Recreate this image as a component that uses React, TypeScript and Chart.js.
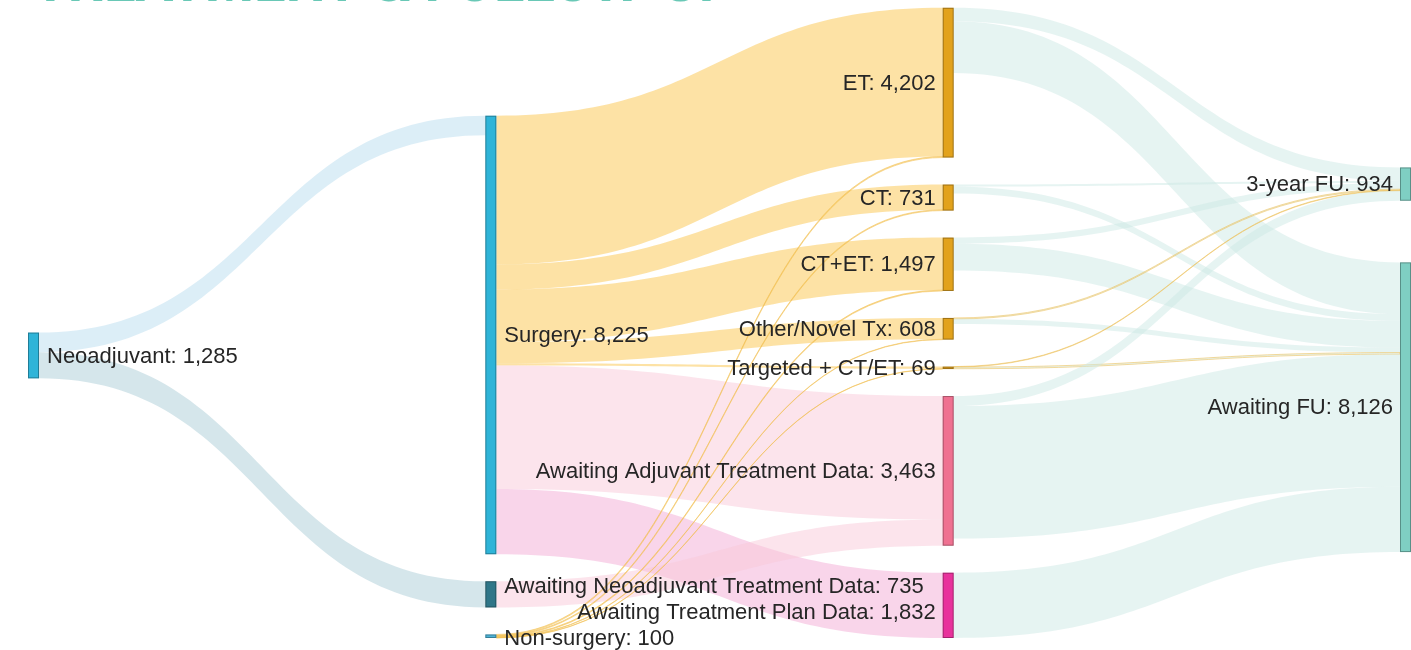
import React, { useEffect, useRef } from "react";
import { Chart, registerables } from "chart.js";

Chart.register(...registerables);

// ---------------- DATA ----------------
const TITLE = "TREATMENT & FOLLOW-UP";

const nodeNames = [
  "Neoadjuvant",
  "Surgery",
  "Awaiting Neoadjuvant Treatment Data",
  "Non-surgery",
  "ET",
  "CT",
  "CT+ET",
  "Other/Novel Tx",
  "Targeted + CT/ET",
  "Awaiting Adjuvant Treatment Data",
  "Awaiting Treatment Plan Data",
  "3-year FU",
  "Awaiting FU",
];
const nodeColumns = [0, 1, 1, 1, 2, 2, 2, 2, 2, 2, 2, 3, 3];
const nodeLabelValues = [1285, 8225, 735, 100, 4202, 731, 1497, 608, 69, 3463, 1832, 934, 8126];

const linkSources = [
  "Neoadjuvant", "Neoadjuvant",
  "Surgery", "Surgery", "Surgery", "Surgery", "Surgery", "Surgery", "Surgery",
  "Awaiting Neoadjuvant Treatment Data",
  "Non-surgery", "Non-surgery", "Non-surgery", "Non-surgery", "Non-surgery",
  "ET", "ET", "CT", "CT", "CT+ET", "CT+ET", "Other/Novel Tx", "Other/Novel Tx",
  "Targeted + CT/ET", "Targeted + CT/ET",
  "Awaiting Adjuvant Treatment Data", "Awaiting Adjuvant Treatment Data",
  "Awaiting Treatment Plan Data",
];
const linkTargets = [
  "Surgery", "Awaiting Neoadjuvant Treatment Data",
  "ET", "CT", "CT+ET", "Other/Novel Tx", "Targeted + CT/ET", "Awaiting Adjuvant Treatment Data", "Awaiting Treatment Plan Data",
  "Awaiting Adjuvant Treatment Data",
  "ET", "CT", "CT+ET", "Other/Novel Tx", "Targeted + CT/ET",
  "3-year FU", "Awaiting FU", "3-year FU", "Awaiting FU", "3-year FU", "Awaiting FU", "3-year FU", "Awaiting FU",
  "3-year FU", "Awaiting FU",
  "3-year FU", "Awaiting FU",
  "Awaiting FU",
];
const linkValues = [
  550, 735,
  4172, 706, 1472, 596, 61, 3463, 1832,
  735,
  30, 25, 25, 12, 8,
  380, 1450, 60, 190, 170, 750, 30, 140,
  14, 46,
  280, 3718,
  1832,
];

// ---------------- LAYOUT PARAMETERS / STYLES ----------------
const Y_AXIS_MAX = 17700;
const NODE_PADDING = 757;
const ITERATIONS = 3;
const NODE_WIDTH = 11;
const LABEL_FONT_SIZE = 22;

const nodeColors: Record<string, string> = {
  "Neoadjuvant": "#2fb4d8",
  "Surgery": "#2fb4d8",
  "Awaiting Neoadjuvant Treatment Data": "#2f7688",
  "Non-surgery": "#4db3d6",
  "ET": "#e2a21c",
  "CT": "#e2a21c",
  "CT+ET": "#e2a21c",
  "Other/Novel Tx": "#e2a21c",
  "Targeted + CT/ET": "#e2a21c",
  "Awaiting Adjuvant Treatment Data": "#ef7191",
  "Awaiting Treatment Plan Data": "#e8329c",
  "3-year FU": "#7fcfc3",
  "Awaiting FU": "#7fcfc3",
};
const linkColorsByTarget: Record<string, string> = {
  "Surgery": "rgba(185,221,239,0.5)",
  "Awaiting Neoadjuvant Treatment Data": "rgba(171,205,215,0.5)",
  "ET": "rgba(251,197,75,0.5)",
  "CT": "rgba(251,197,75,0.5)",
  "CT+ET": "rgba(251,197,75,0.5)",
  "Other/Novel Tx": "rgba(251,197,75,0.5)",
  "Targeted + CT/ET": "rgba(251,197,75,0.5)",
  "Awaiting Adjuvant Treatment Data": "rgba(249,201,217,0.5)",
  "Awaiting Treatment Plan Data": "rgba(243,171,213,0.5)",
  "3-year FU": "rgba(205,233,229,0.5)",
  "Awaiting FU": "rgba(205,233,229,0.5)",
};

// ---------------- SANKEY LAYOUT (d3-sankey style relaxation, fixed node order) ----------------
type SNode = {
  name: string; col: number; label: number; value: number; index: number;
  y0: number; y1: number; sourceLinks: SLink[]; targetLinks: SLink[];
};
type SLink = { source: SNode; target: SNode; value: number; width: number; sy: number; ty: number; index: number };

function computeSankey(height: number, py: number, iterations: number) {
  const nodes: SNode[] = nodeNames.map((name, i) => ({
    name, col: nodeColumns[i], label: nodeLabelValues[i], value: 0, index: i,
    y0: 0, y1: 0, sourceLinks: [], targetLinks: [],
  }));
  const byName = new Map(nodes.map((n) => [n.name, n]));
  const links: SLink[] = linkValues.map((v, i) => {
    const s = byName.get(linkSources[i])!;
    const t = byName.get(linkTargets[i])!;
    const l: SLink = { source: s, target: t, value: v, width: v, sy: 0, ty: 0, index: i };
    s.sourceLinks.push(l);
    t.targetLinks.push(l);
    return l;
  });
  const sum = (ls: SLink[]) => ls.reduce((a, l) => a + l.value, 0);
  for (const n of nodes) n.value = Math.max(sum(n.sourceLinks), sum(n.targetLinks));
  const nCols = Math.max(...nodeColumns) + 1;
  const columns: SNode[][] = Array.from({ length: nCols }, (_, c) => nodes.filter((n) => n.col === c));

  const ascBreadth = (a: SNode, b: SNode) => a.y0 - b.y0;
  const ascSrc = (a: SLink, b: SLink) => ascBreadth(a.source, b.source) || a.index - b.index;
  const ascTgt = (a: SLink, b: SLink) => ascBreadth(a.target, b.target) || a.index - b.index;
  const reorderAll = () => {
    for (const n of nodes) { n.sourceLinks.sort(ascTgt); n.targetLinks.sort(ascSrc); }
  };

  // initial placement: spread the free space evenly in every column
  for (const col of columns) {
    let y = 0;
    for (const n of col) { n.y0 = y; n.y1 = y + n.value; y = n.y1 + py; }
    const slack = (height - y + py) / (col.length + 1);
    col.forEach((n, i) => { n.y0 += slack * (i + 1); n.y1 += slack * (i + 1); });
  }
  reorderAll();

  const targetTop = (source: SNode, target: SNode) => {
    let y = source.y0 - ((source.sourceLinks.length - 1) * py) / 2;
    for (const l of source.sourceLinks) { if (l.target === target) break; y += l.width + py; }
    for (const l of target.targetLinks) { if (l.source === source) break; y -= l.width; }
    return y;
  };
  const sourceTop = (source: SNode, target: SNode) => {
    let y = target.y0 - ((target.targetLinks.length - 1) * py) / 2;
    for (const l of target.targetLinks) { if (l.source === source) break; y += l.width + py; }
    for (const l of source.sourceLinks) { if (l.target === target) break; y -= l.width; }
    return y;
  };
  const resolveCollisions = (ns: SNode[]) => {
    let y = 0;
    let node = ns[0];
    for (let i = 0; i < ns.length; i++) {
      node = ns[i];
      const dy = y - node.y0;
      if (dy > 0) { node.y0 += dy; node.y1 += dy; }
      y = node.y1 + py;
    }
    let dy = y - py - height;
    if (dy > 0) {
      node.y0 -= dy; node.y1 -= dy; y = node.y0;
      for (let i = ns.length - 2; i >= 0; --i) {
        node = ns[i];
        dy = node.y1 + py - y;
        if (dy > 0) { node.y0 -= dy; node.y1 -= dy; }
        y = node.y0;
      }
    }
  };
  for (let k = 0; k < iterations; k++) {
    const alpha = Math.pow(0.99, k);
    for (let c = columns.length - 2; c >= 0; --c) {
      for (const s of columns[c]) {
        let y = 0, w = 0;
        for (const l of s.sourceLinks) { y += sourceTop(s, l.target) * l.value; w += l.value; }
        if (!(w > 0)) continue;
        const dy = (y / w - s.y0) * alpha;
        s.y0 += dy; s.y1 += dy;
        reorderAll();
      }
      resolveCollisions(columns[c]);
    }
    for (let c = 1; c < columns.length; ++c) {
      for (const t of columns[c]) {
        let y = 0, w = 0;
        for (const l of t.targetLinks) { y += targetTop(l.source, t) * l.value; w += l.value; }
        if (!(w > 0)) continue;
        const dy = (y / w - t.y0) * alpha;
        t.y0 += dy; t.y1 += dy;
        reorderAll();
      }
      resolveCollisions(columns[c]);
    }
  }
  reorderAll();
  for (const n of nodes) {
    let y0 = n.y0, y1 = n.y0;
    for (const l of n.sourceLinks) { l.sy = y0; y0 += l.width; }
    for (const l of n.targetLinks) { l.ty = y1; y1 += l.width; }
  }
  return { nodes, links };
}

// ---------------- PLUGIN ----------------
const sankeyPlugin = {
  id: "sankeyDraw",
  afterDraw(chart: any) {
    const ctx: CanvasRenderingContext2D = chart.ctx;
    const xs = chart.scales.x;
    const ys = chart.scales.y;
    const { nodes, links } = computeSankey(Y_AXIS_MAX, NODE_PADDING, ITERATIONS);
    const px = (c: number) => xs.getPixelForValue(c);
    const py = (v: number) => ys.getPixelForValue(v);

    ctx.save();
    // title (cropped at the top edge, as in the reference)
    ctx.fillStyle = "#69c8b6";
    let fs = 54;
    ctx.font = `bold ${fs}px Roboto, "Open Sans", sans-serif`;
    const w = ctx.measureText(TITLE).width;
    fs = (fs * 702) / w;
    ctx.font = `bold ${fs}px Roboto, "Open Sans", sans-serif`;
    ctx.textBaseline = "alphabetic";
    ctx.textAlign = "left";
    ctx.fillText(TITLE, 33, 1);

    // links
    for (const l of links) {
      const x0 = px(l.source.col) + NODE_WIDTH;
      const x1 = px(l.target.col);
      const xm = (x0 + x1) / 2;
      const s0 = py(l.sy), s1 = py(l.sy + l.width);
      const t0 = py(l.ty), t1 = py(l.ty + l.width);
      ctx.beginPath();
      ctx.moveTo(x0, s0);
      ctx.bezierCurveTo(xm, s0, xm, t0, x1, t0);
      ctx.lineTo(x1, t1);
      ctx.bezierCurveTo(xm, t1, xm, s1, x0, s1);
      ctx.closePath();
      ctx.fillStyle = linkColorsByTarget[l.target.name];
      ctx.fill();
      if (Math.abs(s1 - s0) < 2) {
        ctx.strokeStyle = "rgba(240,190,80,0.7)";
        ctx.lineWidth = 0.8;
        ctx.stroke();
      }
    }

    // nodes
    for (const n of nodes) {
      const x0 = px(n.col);
      const y0 = py(n.y0), y1 = py(n.y1);
      ctx.fillStyle = nodeColors[n.name];
      ctx.fillRect(x0, y0, NODE_WIDTH, Math.max(1, y1 - y0));
      ctx.strokeStyle = "rgba(0,0,0,0.3)";
      ctx.lineWidth = 1;
      ctx.strokeRect(x0 + 0.5, y0 + 0.5, NODE_WIDTH - 1, Math.max(1, y1 - y0 - 1));
    }

    // labels (with a simple vertical de-overlap)
    ctx.font = `${LABEL_FONT_SIZE}px "Liberation Sans", Arial, sans-serif`;
    ctx.fillStyle = "#262626";
    ctx.textBaseline = "middle";
    const labels = nodes.map((n) => {
      const text = `${n.name}: ${n.label.toLocaleString("en-US")}`;
      const tw = ctx.measureText(text).width;
      const left = n.col < 2;
      const xa = left ? px(n.col) + NODE_WIDTH + 8 : px(n.col) - 7;
      return { text, left, xa, x0: left ? xa : xa - tw, x1: left ? xa + tw : xa, y: py((n.y0 + n.y1) / 2) };
    });
    const LH = LABEL_FONT_SIZE + 4;
    for (let pass = 0; pass < 20; pass++) {
      for (let i = 0; i < labels.length; i++) {
        for (let j = i + 1; j < labels.length; j++) {
          const a = labels[i], b = labels[j];
          if (a.x1 < b.x0 || b.x1 < a.x0) continue;
          const d = b.y - a.y;
          const ov = LH - Math.abs(d);
          if (ov > 0) {
            const s = d >= 0 ? 1 : -1;
            a.y -= (s * ov) / 2;
            b.y += (s * ov) / 2;
          }
        }
      }
    }
    for (const lb of labels) {
      ctx.textAlign = lb.left ? "left" : "right";
      ctx.fillText(lb.text, lb.xa, lb.y + 1);
    }
    ctx.restore();
  },
};

export default function App() {
  const ref = useRef<HTMLCanvasElement | null>(null);
  useEffect(() => {
    if (!ref.current) return;
    const chart = new Chart(ref.current, {
      type: "scatter",
      data: { datasets: [{ data: [] }] },
      options: {
        animation: false,
        responsive: true,
        maintainAspectRatio: false,
        layout: { padding: { left: 28, right: 11, top: 7, bottom: 12 } },
        scales: {
          x: { type: "linear", min: 0, max: 3, display: false },
          y: { type: "linear", min: 0, max: Y_AXIS_MAX, reverse: true, display: false },
        },
        plugins: { legend: { display: false }, tooltip: { enabled: false }, title: { display: false } },
      },
      plugins: [sankeyPlugin],
    });
    return () => chart.destroy();
  }, []);
  return (
    <div style={{ position: "fixed", left: 0, top: 0, width: 1411, height: 650, background: "#fff" }}>
      <canvas ref={ref} />
    </div>
  );
}
